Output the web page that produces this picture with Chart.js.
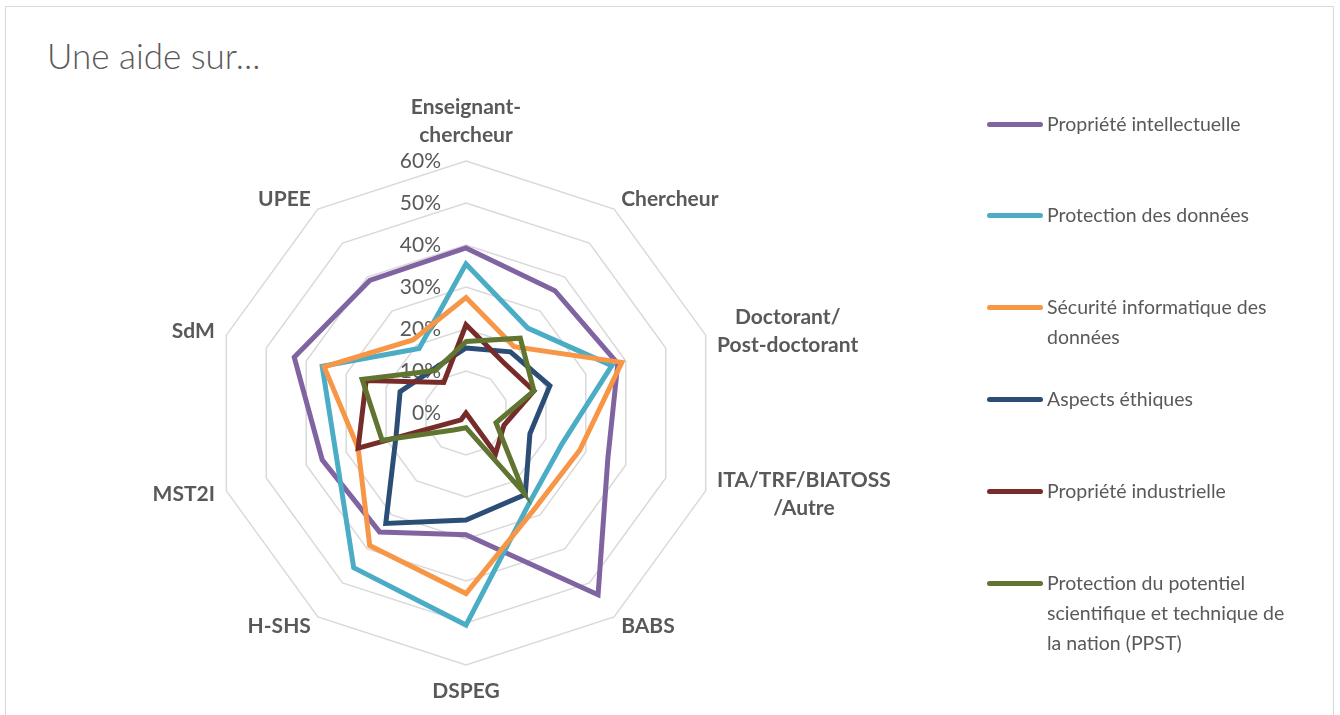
<!DOCTYPE html>
<html lang="fr">
<head>
<meta charset="utf-8">
<script src="https://cdn.jsdelivr.net/npm/chart.js@4.4.1/dist/chart.umd.min.js"></script>
<style>
  html, body { margin: 0; padding: 0; background: #fff; }
  body { width: 1340px; height: 715px; position: relative; overflow: hidden; font-family: Lato, "Open Sans", sans-serif; }
  #frame { position: absolute; left: 5px; top: 6px; width: 1327px; height: 740px; border: 1px solid #d9d9d9; }
  #title { position: absolute; left: 47px; top: 33px; font-size: 35px; font-weight: 300; color: #595959; line-height: 44px; }
  #chart { position: absolute; left: 0; top: 0; }
  .item { position: absolute; left: 987px; width: 340px; }
  .swatch { position: absolute; left: 0; top: 13px; width: 56px; height: 5px; border-radius: 3px; }
  .txt { position: absolute; left: 60px; width: 252px; font-size: 19.5px; line-height: 30px; color: #595959; }
</style>
</head>
<body>
<div id="frame"></div>
<div id="title">Une aide sur...</div>
<canvas id="chart" width="1340" height="715"></canvas>
<div id="legend"></div>
<script>
// axes du radar (sens horaire depuis le haut)
const categories = [
  ['Enseignant-', 'chercheur'], 'Chercheur', ['Doctorant/', 'Post-doctorant'],
  ['ITA/TRF/BIATOSS', '/Autre'], 'BABS', 'DSPEG', 'H-SHS', 'MST2I', 'SdM', 'UPEE'
];
const tickValues = [0, 10, 20, 30, 40, 50, 60];

const seriesNames = [
  'Propriété intellectuelle',
  'Protection des données',
  'Sécurité informatique des données',
  'Aspects éthiques',
  'Propriété industrielle',
  'Protection du potentiel scientifique et technique de la nation (PPST)'
];

// valeurs en %
const proprieteIntel = [39.3, 36, 38, 35.5, 53.5, 29, 35, 36, 43, 39];
const protectionDonnees = [35.5, 25, 36.5, 24, 26, 50.5, 45.5, 32.5, 36, 19];
const securiteInfo = [27.5, 19.5, 39, 28.5, 28, 43, 39, 27, 35.5, 21.5];
const aspectsEthiques = [15.5, 18, 21, 16, 24, 25.5, 32.5, 17.5, 16.5, 13];
const proprieteIndus = [21, 15, 17, 9.5, 12, 0, 2, 27, 25, 9];
const ppst = [17, 22, 17, 7.5, 23.5, 3.5, 5, 21, 26, 12.5];

const seriesValues = [proprieteIntel, protectionDonnees, securiteInfo, aspectsEthiques, proprieteIndus, ppst];
const colors = ['#8064A2', '#4BACC6', '#F79646', '#2C4D75', '#772C2A', '#5F7530'];

// legende a droite
const legend = document.getElementById('legend');
const rowTop = [109, 200, 292, 384, 476, 568];
seriesNames.forEach((name, i) => {
  const div = document.createElement('div');
  div.className = 'item';
  div.style.top = rowTop[i] + 'px';
  div.innerHTML = '<div class="swatch" style="background:' + colors[i] + '"></div><div class="txt">' + name + '</div>';
  legend.appendChild(div);
});

// libelles facon Excel : centres verticalement sur la position de l'axe
const excelLabels = {
  id: 'excelLabels',
  beforeDatasetsDraw(chart) {
    const s = chart.scales.r;
    const ctx = chart.ctx;
    ctx.save();
    ctx.fillStyle = '#595959';
    ctx.font = '21px Lato';
    ctx.textAlign = 'right';
    ctx.textBaseline = 'middle';
    tickValues.forEach(v => {
      ctx.fillText(v + '%', s.xCenter - 25, s.yCenter - s.getDistanceFromCenterForValue(v));
    });

    ctx.font = 'bold 21px Lato';
    ctx.textAlign = 'center';
    const lh = 28;
    categories.forEach((lab, i) => {
      const lines = Array.isArray(lab) ? lab : [lab];
      const p = s.getPointPosition(i, s.drawingArea + 12);
      const ang = Math.round(i * 360 / categories.length);
      const w = Math.max(...lines.map(l => ctx.measureText(l).width));
      let cx = p.x;
      if (ang > 0 && ang < 180) cx = p.x + w / 2;
      else if (ang > 180) cx = p.x - w / 2;
      let top = p.y - lines.length * lh / 2;
      if (ang === 0) top = p.y - lines.length * lh;
      if (ang === 180) top = p.y;
      lines.forEach((l, k) => ctx.fillText(l, cx, top + lh * k + lh / 2));
    });
    ctx.restore();
  }
};

new Chart(document.getElementById('chart'), {
  type: 'radar',
  data: {
    labels: categories,
    datasets: seriesNames.map((name, i) => ({
      label: name,
      data: seriesValues[i],
      borderColor: colors[i],
      backgroundColor: colors[i],
      borderWidth: 5,
      borderJoinStyle: 'miter',
      pointRadius: 0,
      pointHoverRadius: 0,
      fill: false,
      tension: 0,
      order: seriesNames.length - i
    }))
  },
  options: {
    responsive: false,
    animation: false,
    layout: { padding: { left: 214, top: 161, right: 622, bottom: 50 } },
    plugins: { legend: { display: false }, tooltip: { enabled: false } },
    scales: {
      r: {
        min: 0,
        max: 60,
        ticks: { stepSize: 10, display: false },
        grid: { color: '#d9d9d9', lineWidth: 1.5 },
        angleLines: { display: false },
        pointLabels: { display: false }
      }
    }
  },
  plugins: [excelLabels]
});
</script>
</body>
</html>
